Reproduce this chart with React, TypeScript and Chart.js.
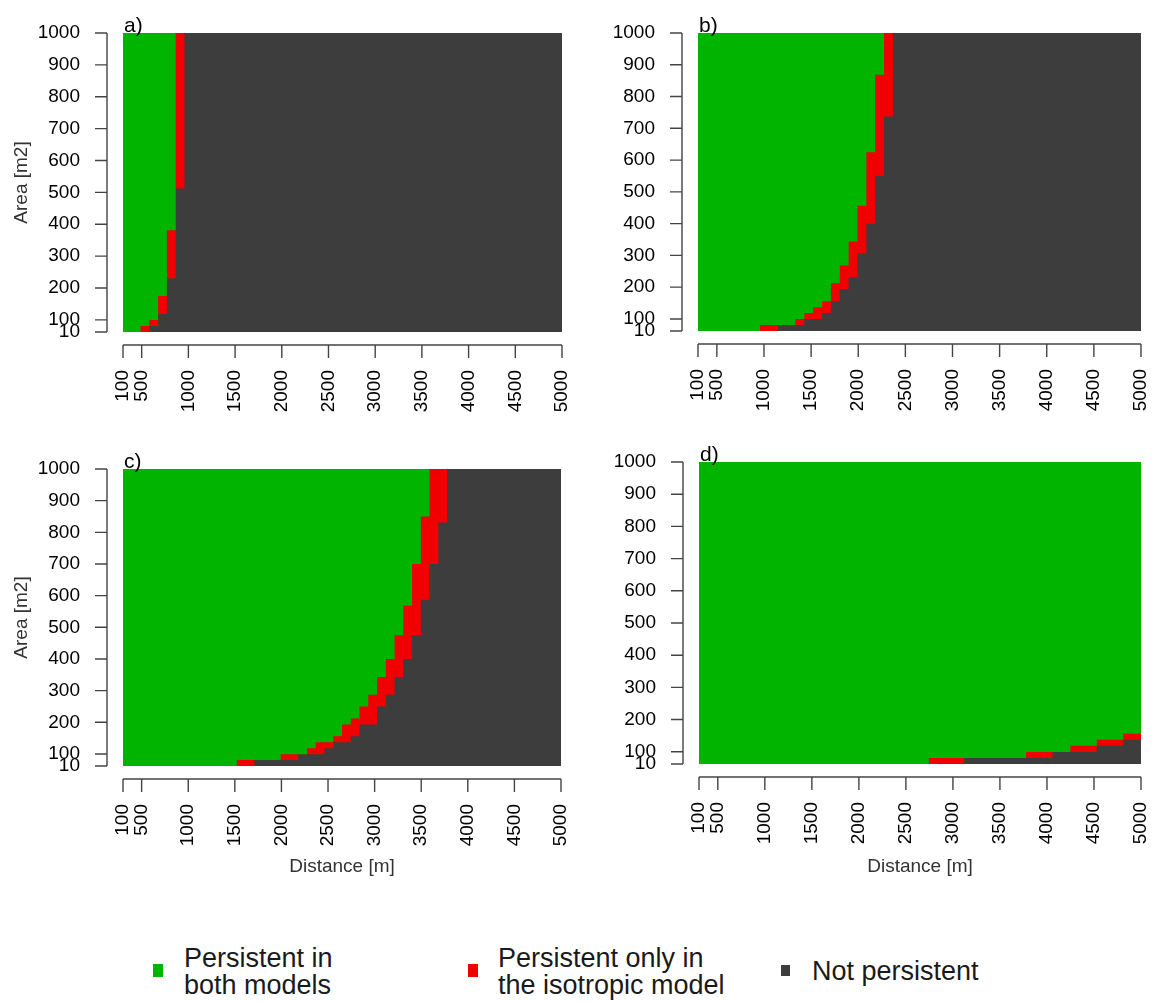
import React, { useEffect, useRef } from 'react';
import { Chart, registerables } from 'chart.js';

Chart.register(...registerables);

const FONT = "'Liberation Sans', Arial, sans-serif";
const GREEN = '#00B400';
const RED = '#F00000';
const GRAY = '#3D3D3D';

// Axes (Distance in m, Area in m2)
const X_MIN = 300;
const X_MAX = 5000;
const Y_MIN = 62;
const Y_MAX = 1000;
const X_TICK_VALUES = [300, 500, 1000, 1500, 2000, 2500, 3000, 3500, 4000, 4500, 5000];
const X_TICK_LABELS = ['100', '500', '1000', '1500', '2000', '2500', '3000', '3500', '4000', '4500', '5000'];
const Y_TICK_VALUES = [62, 100, 200, 300, 400, 500, 600, 700, 800, 900, 1000];
const Y_TICK_LABELS = ['10', '100', '200', '300', '400', '500', '600', '700', '800', '900', '1000'];

// Panel a) : distance breakpoints, area above which cells are green / non-grey
const A_DIST = [300, 488, 582, 676, 770, 864, 958, 5000];
const A_GREEN_FROM = [62, 80.8, 99.5, 174.6, 380.9, 1000, 1000, 1000];
const A_RED_FROM = [62, 62, 80.8, 118.3, 230.8, 512.2, 1000, 1000];

// Panel b)
const B_DIST = [300, 958, 1146, 1334, 1428, 1522, 1616, 1710, 1804, 1898, 1992, 2086, 2180, 2274, 2368, 5000];
const B_GREEN_FROM = [62, 80.8, 80.8, 99.5, 118.3, 137, 155.8, 212.1, 268.4, 343.4, 456, 624.8, 868.7, 1000, 1000, 1000];
const B_RED_FROM = [62, 62, 80.8, 80.8, 99.5, 99.5, 118.3, 155.8, 193.3, 230.8, 305.9, 399.7, 549.8, 737.4, 1000, 1000];

// Panel c)
const C_DIST = [300, 1522, 1710, 1992, 2180, 2274, 2368, 2462, 2556, 2650, 2744, 2838, 2932, 3026, 3120, 3214, 3308, 3402, 3496, 3590, 3684, 3778, 5000];
const C_GREEN_FROM = [62, 80.8, 80.8, 99.5, 99.5, 118.3, 137, 137, 155.8, 193.3, 212.1, 249.6, 287.1, 343.4, 399.7, 474.7, 568.5, 699.8, 849.9, 1000, 1000, 1000, 1000];
const C_RED_FROM = [62, 62, 80.8, 80.8, 99.5, 99.5, 99.5, 118.3, 137, 137, 155.8, 193.3, 193.3, 249.6, 287.1, 343.4, 399.7, 474.7, 587.3, 699.8, 831.2, 1000, 1000];

// Panel d)
const D_DIST = [300, 2744, 3120, 3778, 4060, 4248, 4530, 4812, 5000];
const D_GREEN_FROM = [62, 80.8, 80.8, 99.5, 99.5, 118.3, 137, 155.8, 155.8];
const D_RED_FROM = [62, 62, 80.8, 80.8, 99.5, 99.5, 118.3, 137, 137];

const LEGEND_LABELS = ['Persistent in both models', 'Persistent only in the isotropic model', 'Not persistent'];

type Spec = {
  label: string;
  dist: number[];
  green: number[];
  red: number[];
  left: number;
  top: number;
  width: number;
  height: number;
  area: { l: number; r: number; t: number; b: number };
  yTitle: boolean;
  xTitle: boolean;
};

const PANELS: Spec[] = [
  { label: 'a)', dist: A_DIST, green: A_GREEN_FROM, red: A_RED_FROM, left: 0, top: 0, width: 580, height: 440, area: { l: 123, r: 562, t: 33, b: 332 }, yTitle: true, xTitle: false },
  { label: 'b)', dist: B_DIST, green: B_GREEN_FROM, red: B_RED_FROM, left: 580, top: 0, width: 575, height: 440, area: { l: 118, r: 561, t: 33, b: 331 }, yTitle: false, xTitle: false },
  { label: 'c)', dist: C_DIST, green: C_GREEN_FROM, red: C_RED_FROM, left: 0, top: 440, width: 580, height: 460, area: { l: 123, r: 561, t: 29, b: 326 }, yTitle: true, xTitle: true },
  { label: 'd)', dist: D_DIST, green: D_GREEN_FROM, red: D_RED_FROM, left: 580, top: 440, width: 575, height: 460, area: { l: 119, r: 561, t: 22, b: 324 }, yTitle: false, xTitle: true },
];

function toPoints(xs: number[], ys: number[]) {
  return xs.map((x, i) => ({ x, y: ys[i] }));
}

function zeroPadding(s: any) {
  s.paddingTop = 0;
  s.paddingBottom = 0;
  s.paddingLeft = 0;
  s.paddingRight = 0;
}

function makeAxesPlugin(label: string) {
  return {
    id: 'rAxes',
    afterDraw(chart: any) {
      const { ctx, chartArea } = chart;
      const xs = chart.scales.x;
      const ys = chart.scales.y;
      ctx.save();
      ctx.strokeStyle = '#444444';
      ctx.lineWidth = 1.4;
      ctx.beginPath();
      const ax = chartArea.left - 16;
      ctx.moveTo(ax, ys.getPixelForValue(Y_MAX));
      ctx.lineTo(ax, ys.getPixelForValue(Y_MIN));
      Y_TICK_VALUES.forEach((v) => {
        const p = ys.getPixelForValue(v);
        ctx.moveTo(ax, p);
        ctx.lineTo(ax - 12, p);
      });
      const ay = chartArea.bottom + 13;
      ctx.moveTo(xs.getPixelForValue(X_MIN), ay);
      ctx.lineTo(xs.getPixelForValue(X_MAX), ay);
      X_TICK_VALUES.forEach((v) => {
        const p = xs.getPixelForValue(v);
        ctx.moveTo(p, ay);
        ctx.lineTo(p, ay + 13);
      });
      ctx.stroke();
      ctx.fillStyle = '#000';
      ctx.font = `21px ${FONT}`;
      ctx.textAlign = 'left';
      ctx.textBaseline = 'alphabetic';
      ctx.fillText(label, chartArea.left + 1, chartArea.top - 1);
      ctx.restore();
    },
  };
}

function Panel({ spec }: { spec: Spec }) {
  const ref = useRef<HTMLCanvasElement>(null);
  useEffect(() => {
    const canvas = ref.current;
    if (!canvas) return;
    const lineCommon = {
      fill: 'end',
      stepped: 'before',
      borderWidth: 0,
      borderColor: 'rgba(0,0,0,0)',
      pointRadius: 0,
      tension: 0,
    };
    const chart = new Chart(canvas, {
      type: 'line',
      data: {
        datasets: [
          { ...lineCommon, label: LEGEND_LABELS[0], data: toPoints(spec.dist, spec.green), backgroundColor: GREEN },
          { ...lineCommon, label: LEGEND_LABELS[1], data: toPoints(spec.dist, spec.red), backgroundColor: RED },
          { ...lineCommon, label: LEGEND_LABELS[2], data: [{ x: X_MIN, y: Y_MIN }, { x: X_MAX, y: Y_MIN }], backgroundColor: GRAY },
        ] as any,
      },
      options: {
        responsive: false,
        animation: false,
        events: [],
        layout: { autoPadding: false, padding: { left: 0, top: spec.area.t, right: spec.width - spec.area.r, bottom: 0 } },
        plugins: { legend: { display: false }, tooltip: { enabled: false }, title: { display: false } },
        scales: {
          x: {
            type: 'linear',
            min: X_MIN,
            max: X_MAX,
            grid: { display: false, drawTicks: false },
            border: { display: false },
            afterBuildTicks: (s: any) => {
              s.ticks = X_TICK_VALUES.map((v) => ({ value: v }));
            },
            afterFit: (s: any) => {
              s.height = spec.height - spec.area.b;
              zeroPadding(s);
            },
            ticks: {
              autoSkip: false,
              minRotation: 90,
              maxRotation: 90,
              padding: 38,
              color: '#000',
              font: { family: FONT, size: 19 },
              callback: (_v: any, i: number) => X_TICK_LABELS[i],
            },
            title: {
              display: spec.xTitle,
              text: 'Distance [m]',
              color: '#333',
              font: { family: FONT, size: 19, lineHeight: 1 },
              padding: { top: 23.5, bottom: 23.5 },
            },
          },
          y: {
            type: 'linear',
            min: Y_MIN,
            max: Y_MAX,
            grid: { display: false, drawTicks: false },
            border: { display: false },
            afterBuildTicks: (s: any) => {
              s.ticks = Y_TICK_VALUES.map((v) => ({ value: v }));
            },
            afterFit: (s: any) => {
              s.width = spec.area.l;
              zeroPadding(s);
            },
            ticks: {
              autoSkip: false,
              padding: 43,
              color: '#000',
              font: { family: FONT, size: 19 },
              callback: (_v: any, i: number) => Y_TICK_LABELS[i],
            },
            title: {
              display: spec.yTitle,
              text: 'Area [m2]',
              color: '#333',
              font: { family: FONT, size: 19, lineHeight: 1 },
              padding: { top: 12.5, bottom: 12.5 },
            },
          },
        },
      } as any,
      plugins: [makeAxesPlugin(spec.label)],
    });
    return () => chart.destroy();
  }, [spec]);
  return (
    <canvas
      ref={ref}
      width={spec.width}
      height={spec.height}
      style={{ position: 'absolute', left: spec.left, top: spec.top, width: spec.width, height: spec.height }}
    />
  );
}

const legendText: React.CSSProperties = {
  position: 'absolute',
  fontFamily: FONT,
  fontSize: 27,
  lineHeight: '27px',
  color: '#1a1a1a',
  whiteSpace: 'nowrap',
};

function marker(left: number, top: number, w: number, h: number, color: string): React.CSSProperties {
  return { position: 'absolute', left, top, width: w, height: h, background: color };
}

export default function App() {
  return (
    <div style={{ position: 'absolute', left: 0, top: 0, width: 1155, height: 1001, background: '#fff', overflow: 'hidden' }}>
      {PANELS.map((p) => (
        <Panel key={p.label} spec={p} />
      ))}
      <div style={marker(153, 964, 10, 13, GREEN)} />
      <div style={{ ...legendText, left: 184, top: 945 }}>Persistent in<br />both models</div>
      <div style={marker(468, 964, 10, 13, RED)} />
      <div style={{ ...legendText, left: 498, top: 945 }}>Persistent only in<br />the isotropic model</div>
      <div style={marker(781, 965, 9, 11, GRAY)} />
      <div style={{ ...legendText, left: 812, top: 958 }}>Not persistent</div>
    </div>
  );
}
